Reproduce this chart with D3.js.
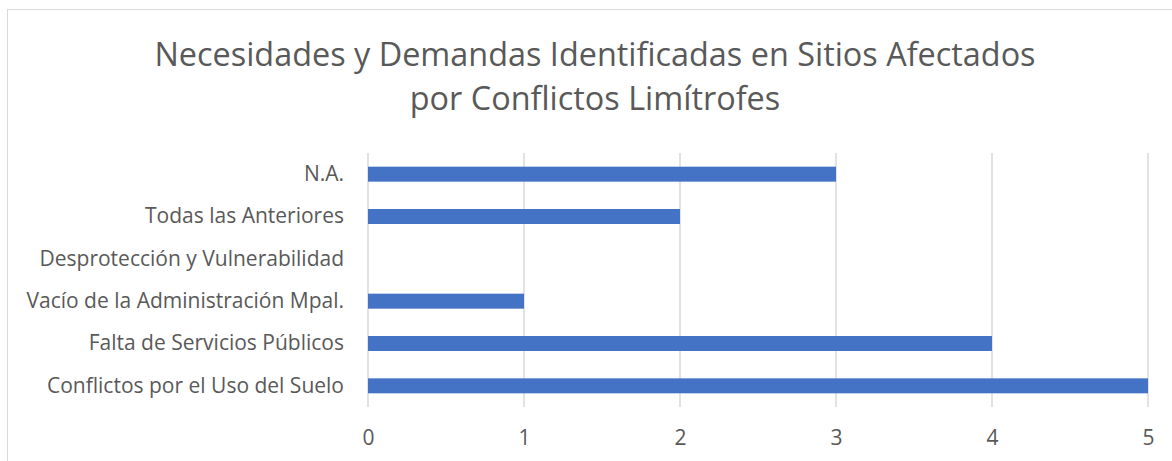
<!DOCTYPE html>
<html>
<head>
<meta charset="utf-8">
<script src="https://cdn.jsdelivr.net/npm/d3@7"></script>
<style>
  body { margin: 0; background: #fff; }
  text { font-family: "Open Sans", sans-serif; fill: #595959; }
</style>
</head>
<body>
<div id="chart"></div>
<script>
const categories = [
  "N.A.",
  "Todas las Anteriores",
  "Desprotección y Vulnerabilidad",
  "Vacío de la Administración Mpal.",
  "Falta de Servicios Públicos",
  "Conflictos por el Uso del Suelo"
]
const values = [3, 2, 0, 1, 4, 5]
const ticks = [0, 1, 2, 3, 4, 5]
const titleLines = [
  "Necesidades y Demandas Identificadas en Sitios Afectados",
  "por Conflictos Limítrofes"
]

const W = 1172, H = 461
const margin = {top: 153, right: 24, bottom: 54, left: 368}
const width = W - margin.left - margin.right
const height = H - margin.top - margin.bottom

const svg = d3.select("#chart").append("svg")
    .attr("width", W)
    .attr("height", H)

// chart border (cut off at right/bottom like the reference)
svg.append("rect")
    .attr("x", 7.5).attr("y", 9.5)
    .attr("width", W + 10).attr("height", H + 10)
    .attr("fill", "none")
    .attr("stroke", "#d9d9d9")

svg.selectAll("text.title")
  .data(titleLines)
  .enter().append("text")
    .attr("class", "title")
    .attr("text-anchor", "middle")
    .attr("x", 595)
    .attr("y", (d, i) => 66 + i * 44)
    .style("font-size", "32.4px")
    .text(d => d)

const x = d3.scaleLinear().domain([0, 5]).range([0, width])
const y = d3.scaleBand().domain(categories).range([0, height]).paddingInner(0.646).paddingOuter(0.323)

const g = svg.append("g")
    .attr("transform", "translate(" + margin.left + "," + margin.top + ")")

// gridlines
g.selectAll("line.grid")
  .data(ticks)
  .enter().append("line")
    .attr("class", "grid")
    .attr("x1", d => x(d)).attr("x2", d => x(d))
    .attr("y1", 0).attr("y2", height)
    .attr("stroke", "#d9d9d9")
    .attr("stroke-width", 1.5)

g.selectAll("rect.bar")
  .data(values)
  .enter().append("rect")
    .attr("class", "bar")
    .attr("x", 0)
    .attr("y", (d, i) => y(categories[i]))
    .attr("width", d => x(d))
    .attr("height", y.bandwidth())
    .attr("fill", "#4472c4")

// x axis labels
const xAxis = d3.axisBottom(x).tickValues(ticks).tickFormat(d3.format("d")).tickSize(0).tickPadding(0)
g.append("g")
    .attr("transform", "translate(0," + (height + 23) + ")")
    .call(xAxis)
    .call(a => a.select(".domain").remove())
    .selectAll("text")
    .style("font-size", "21px")
    .attr("fill", "#595959")

// category labels
const yAxis = d3.axisLeft(y).tickSize(0).tickPadding(24)
g.append("g")
    .call(yAxis)
    .call(a => a.select(".domain").remove())
    .selectAll("text")
    .style("font-size", "21px")
    .attr("fill", "#595959")
</script>
</body>
</html>
